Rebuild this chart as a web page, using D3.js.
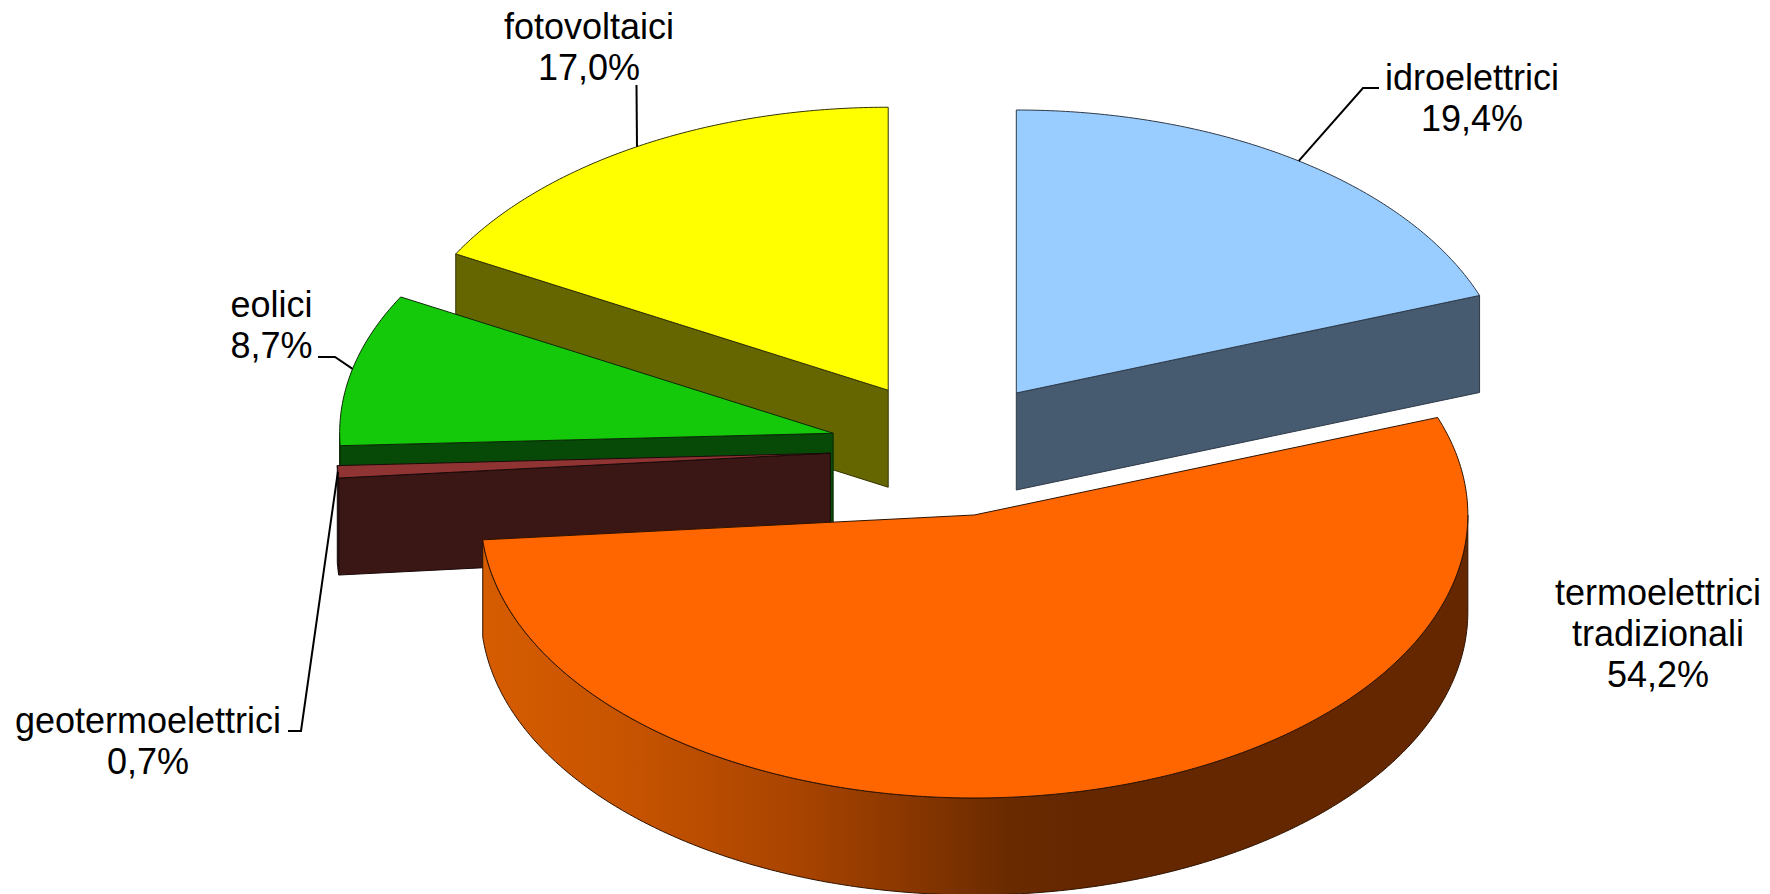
<!DOCTYPE html>
<html>
<head>
<meta charset="utf-8">
<style>html,body{margin:0;padding:0;background:#fff;overflow:hidden}svg{display:block}text{font-family:"Liberation Sans",Arial,sans-serif;font-size:36px;fill:#000}</style>
<script src="https://cdn.jsdelivr.net/npm/d3@7/dist/d3.min.js"></script>
</head>
<body>
<svg id="c" width="1770" height="894"></svg>
<script>
const categories = ["idroelettrici","termoelettrici tradizionali","geotermoelettrici","eolici","fotovoltaici"];
const shares = [19.4,54.2,0.7,8.7,17.0];
const labelText = ["19,4%","54,2%","0,7%","8,7%","17,0%"];
const labelLines = [["idroelettrici"],["termoelettrici","tradizionali"],["geotermoelettrici"],["eolici"],["fotovoltaici"]];
const topColors = ["#99ccff","#ff6600","#8f3333","#14c80a","#ffff00"];
const wallColors = ["#465a70","#642700","#3a1614","#074a07","#666600"];
const strokeColors = ["#2e3a48","#2e1300","#1a0a0a","#0a2a05","#333300"];

const W=1770,H=894,cx=948.5,cy=448.7,rx=493.5,ry=283,depth=97,explode=0.24;
const svg=d3.select("#c");
const defs=svg.append("defs");
const grad=defs.append("linearGradient").attr("id","wallOrange").attr("gradientUnits","userSpaceOnUse")
  .attr("x1",cx-rx+26).attr("x2",cx+rx+26).attr("y1",0).attr("y2",0);
[[0,"#d65c00"],[0.14,"#c85400"],[0.32,"#a94400"],[0.43,"#8a3700"],[0.53,"#6b2b00"],[0.6,"#642700"],[1,"#642700"]]
  .forEach(s=>grad.append("stop").attr("offset",s[0]).attr("stop-color",s[1]));

const arcs=d3.pie().sort(null).startAngle(0).endAngle(2*Math.PI)(shares);
arcs.forEach((a,i)=>{
  a.i=i;a.mid=(a.startAngle+a.endAngle)/2;
  a.ox=cx+explode*rx*Math.sin(a.mid);a.oy=cy-explode*ry*Math.cos(a.mid);
  a.pt=(t,dz=0)=>[a.ox+rx*Math.sin(t),a.oy-ry*Math.cos(t)+dz];
});
const line=d3.line();
const samples=(s,e)=>{const n=Math.max(2,Math.ceil((e-s)/0.01));return d3.range(n+1).map(k=>s+(e-s)*k/n);};
const order=[4,3,2,0,1];
order.forEach(i=>{
  const a=arcs[i],g=svg.append("g"),s=a.startAngle,e=a.endAngle;
  const wallFill=i===1?"url(#wallOrange)":wallColors[i];
  const lo=Math.max(s,Math.PI/2),hi=Math.min(e,3*Math.PI/2);
  const wallAttrs=sel=>sel.attr("fill",wallFill).attr("stroke",strokeColors[i]).attr("stroke-width",1).attr("stroke-linejoin","round");
  if(s>Math.PI&&s<2*Math.PI){
    g.append("path").attr("d",line([[a.ox,a.oy],a.pt(s),a.pt(s,depth),[a.ox,a.oy+depth]])+"Z").call(wallAttrs);
  }
  if(e>0&&e<Math.PI){
    g.append("path").attr("d",line([[a.ox,a.oy],a.pt(e),a.pt(e,depth),[a.ox,a.oy+depth]])+"Z").call(wallAttrs);
  }
  if(hi>lo){
    const ts=samples(lo,hi);
    g.append("path").attr("d",line(ts.map(t=>a.pt(t)).concat(ts.slice().reverse().map(t=>a.pt(t,depth))))+"Z").call(wallAttrs);
  }
  g.append("path").attr("d",line([[a.ox,a.oy]].concat(samples(s,e).map(t=>a.pt(t))))+"Z")
    .attr("fill",topColors[i]).attr("stroke",strokeColors[i]).attr("stroke-width",1).attr("stroke-linejoin","round");
});

// label anchors: [centre x, baseline of last line]; leader elbow points
const labelAnchor=[[1472,131],[1658,687],[148,774],[271.5,358],[589,80]];
const leaderElbows=[[[1379,88],[1363,88]],null,[[288,731],[301,731]],[[318,357],[335,357]],[[636.5,85]]];
arcs.forEach((a,i)=>{
  if(leaderElbows[i]){
    const pts=leaderElbows[i].concat([a.pt(a.mid)]);
    svg.append("path").attr("d",line(pts)).attr("fill","none").attr("stroke","#000").attr("stroke-width",2);
  }
  const lines=labelLines[i].concat([labelText[i]]);
  lines.forEach((t,k)=>{
    svg.append("text").attr("x",labelAnchor[i][0]).attr("y",labelAnchor[i][1]-(lines.length-1-k)*41)
      .attr("text-anchor","middle").text(t);
  });
});
</script>
</body>
</html>
